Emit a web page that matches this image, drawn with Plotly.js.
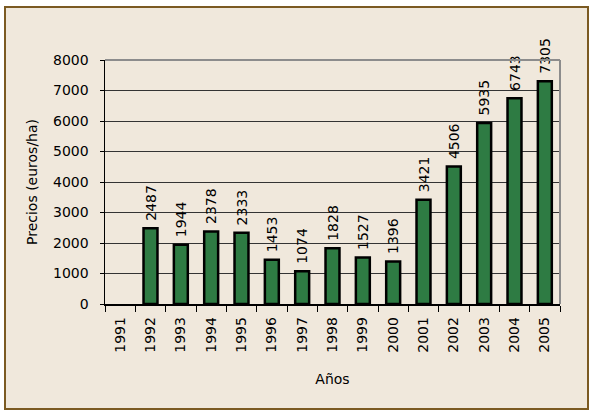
<!DOCTYPE html>
<html>
<head>
<meta charset="utf-8">
<script src="https://cdn.plot.ly/plotly-3.0.1.min.js"></script>
<style>
html,body{margin:0;padding:0;background:#ffffff;}
#box{position:absolute;left:4px;top:6px;width:581px;height:400px;border:2px solid #7B5A22;background:#F0E8DC;}
#chart{position:absolute;left:0;top:0;width:592px;height:411px;}
</style>
</head>
<body>
<div id="box"></div>
<div id="chart"></div>
<script>
const years = ['1991','1992','1993','1994','1995','1996','1997','1998','1999','2000','2001','2002','2003','2004','2005'];
const prices = [null,2487,1944,2378,2333,1453,1074,1828,1527,1396,3421,4506,5935,6743,7305];
const yTicks = [0,1000,2000,3000,4000,5000,6000,7000,8000];

const font = {family:'DejaVu Sans, Verdana, sans-serif', size:14, color:'#000'};

Plotly.newPlot('chart', [{
  type:'bar',
  x: years,
  y: prices,
  marker:{color:'#2E7B43', line:{color:'#000', width:2.5}},
  text: prices.map(v => v===null ? '' : '\u00a0' + v),
  textposition:'outside',
  textangle:-90,
  constraintext:'none',
  cliponaxis:false,
  textfont: font,
  hoverinfo:'none'
}], {
  width:592, height:411,
  margin:{l:105, r:32, t:60, b:107},
  paper_bgcolor:'rgba(0,0,0,0)',
  plot_bgcolor:'rgba(0,0,0,0)',
  font: font,
  bargap:0.54,
  showlegend:false,
  xaxis:{
    type:'category',
    tickangle:-90,
    ticks:'outside', ticklen:6, tickcolor:'#000', tickson:'boundaries',
    ticklabelstandoff:6,
    showline:true, linecolor:'#000', linewidth:1.5,
    showgrid:false,
    tickfont: font,
    title:{text:'Años', font: font, standoff:22}
  },
  yaxis:{
    range:[0,8000],
    tickvals: yTicks,
    ticks:'outside', ticklen:4, tickcolor:'#000',
    showline:true, linecolor:'#000', linewidth:1.5,
    showgrid:true, gridcolor:'#333', gridwidth:1,
    zeroline:false,
    tickfont: font,
    ticklabelstandoff:8,
    title:{text:'Precios (euros/ha)', font: font, standoff:12}
  },
  shapes:[
    {type:'line', xref:'paper', yref:'paper', x0:0, x1:1, y0:1, y1:1, line:{color:'#8C8C8C', width:2}},
    {type:'line', xref:'paper', yref:'paper', x0:1, x1:1, y0:0, y1:1, line:{color:'#8C8C8C', width:2}}
  ]
}, {displayModeBar:false, staticPlot:true});
</script>
</body>
</html>
